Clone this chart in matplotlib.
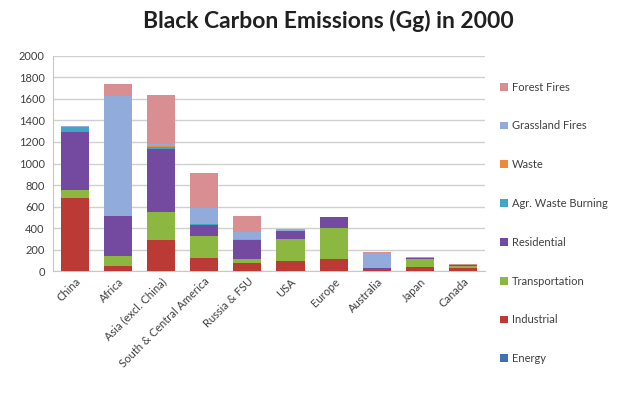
import matplotlib.pyplot as plt
import numpy as np

plt.rcParams['font.family'] = ['Lato', 'DejaVu Sans']

regions = ["China", "Africa", "Asia (excl. China)", "South & Central America",
           "Russia & FSU", "USA", "Europe", "Australia", "Japan", "Canada"]

# emissions by sector, Gg
energy = [5, 3, 5, 3, 2, 2, 2, 2, 1, 2]
industrial = [676, 40, 280, 118, 70, 87, 110, 6, 35, 22]
transportation = [70, 93, 263, 208, 42, 208, 288, 5, 80, 20]
residential = [540, 372, 590, 102, 176, 71, 107, 12, 8, 10]
agr_waste = [50, 3, 20, 8, 3, 8, 0, 2, 1, 1]
waste = [2, 1, 2, 1, 1, 1, 0, 0, 0, 0]
grassland = [5, 1115, 20, 143, 68, 10, 0, 145, 1, 2]
forest = [5, 108, 455, 332, 148, 8, 0, 3, 1, 8]

sectors = ["Energy", "Industrial", "Transportation", "Residential",
           "Agr. Waste Burning", "Waste", "Grassland Fires", "Forest Fires"]
series = [energy, industrial, transportation, residential,
          agr_waste, waste, grassland, forest]
colors = ["#3F72B0", "#BC3A36", "#8CB842", "#7449A0",
          "#3FA6C4", "#F0883E", "#91ACDB", "#D98E92"]

fig = plt.figure(figsize=(6.32, 3.94), dpi=100)
ax = fig.add_axes([0.084, 0.312, 0.683, 0.546])

x = np.arange(len(regions))
bottom = np.zeros(len(regions))
handles = []
for name, vals, c in zip(sectors, series, colors):
    b = ax.bar(x, vals, 0.65, bottom=bottom, color=c, label=name, zorder=3)
    handles.append(b)
    bottom += np.array(vals)

ax.set_xlim(-0.5, len(regions) - 0.5)
ax.set_ylim(0, 2000)
ax.set_yticks(np.arange(0, 2001, 200))
ax.grid(axis='y', color='#D0D0D0', linewidth=1, zorder=0)
for s in ['top', 'right']:
    ax.spines[s].set_visible(False)
ax.spines['left'].set_color('#C8C8C8')
ax.spines['bottom'].set_color('#C8C8C8')
ax.tick_params(axis='both', length=0, labelsize=8, colors='#404040')
ax.tick_params(axis='y', pad=6)
ax.set_xticks(x)
ax.set_xticklabels(regions, rotation=45, ha='right', va='top',
                   rotation_mode='anchor')

fig.suptitle("Black Carbon Emissions (Gg) in 2000", x=0.52, y=0.975,
             fontsize=16.5, fontweight='bold', color='#202020')

fig.legend(handles[::-1], sectors[::-1], loc='upper left',
           bbox_to_anchor=(0.775, 0.818), frameon=False, fontsize=8,
           labelspacing=2.5, handlelength=0.7, handleheight=0.7,
           handletextpad=0.4, labelcolor='#404040')

fig.savefig("out.png", dpi=100)
